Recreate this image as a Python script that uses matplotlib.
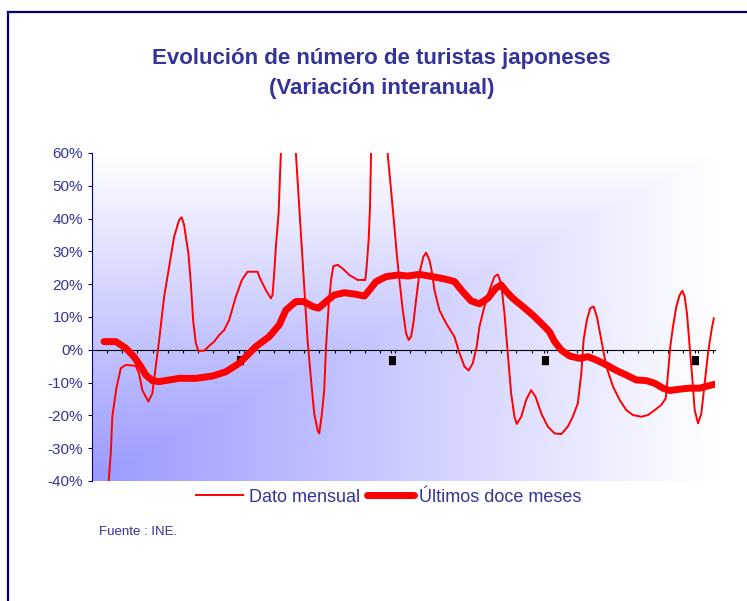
import matplotlib as mpl

mpl.use("Agg")
import matplotlib.pyplot as plt
import numpy as np
from matplotlib.patches import Rectangle

# monthly position (axis category units) and values in %
mensual_x = [1.0, 1.24, 1.34, 1.61, 1.90, 2.23, 2.89, 3.10, 3.32, 3.72, 3.98, 4.21, 4.43, 4.76,
             5.09, 5.42, 5.75, 5.92, 6.08, 6.19, 6.36, 6.52, 6.67, 6.85, 7.02, 7.40, 7.73, 8.06,
             8.39, 8.72, 9.05, 9.49, 9.89, 10.26, 10.92, 11.08, 11.47, 11.80, 11.91, 12.02, 12.13,
             12.31, 12.46, 12.95, 13.45, 13.67, 13.85, 14.00, 14.22, 14.45, 14.66, 14.88, 14.99,
             15.17, 15.32, 15.44, 15.61, 15.77, 15.92, 16.20, 16.53, 16.98, 17.52, 18.03, 18.12,
             18.25, 18.34, 18.41, 18.96, 19.50, 19.73, 19.95, 20.10, 20.28, 20.50, 20.72, 20.89,
             21.05, 21.20, 21.38, 21.60, 21.86, 22.04, 22.26, 22.44, 22.59, 22.92, 23.36, 23.91,
             24.24, 24.57, 24.85, 25.12, 25.38, 25.56, 25.89, 26.22, 26.55, 26.77, 26.99, 27.21,
             27.43, 27.65, 27.87, 28.02, 28.32, 28.64, 28.97, 29.26, 29.64, 30.07, 30.52, 30.96,
             31.39, 31.72, 32.05, 32.28, 32.43, 32.65, 32.87, 33.09, 33.31, 33.60, 33.93, 34.37,
             34.81, 35.25, 35.69, 36.24, 36.68, 37.12, 37.56, 37.85, 38.00, 38.15, 38.33, 38.55,
             38.77, 38.95, 39.10, 39.25, 39.43, 39.61, 39.76, 39.98, 40.20, 40.42, 40.64, 40.87,
             41.02]
mensual = [-46, -31.6, -20.4, -11.7, -5.6, -4.6, -4.9, -7.2, -12.3, -15.8, -13.3, -5.1, 3.0, 16.2,
           25.3, 34.5, 39.6, 40.4, 38.0, 34.5, 29.4, 20.3, 9.1, 2.0, -0.3, -0.3, 1.2, 2.5,
           4.5, 6.0, 9.1, 16.2, 21.3, 23.8, 23.8, 21.8, 18.2, 15.7, 16.7, 23.3, 31.4,
           41.6, 60, 95, 60, 43.6, 30.4, 19.2, 3.0, -9.2, -19.4, -24.5, -25.5,
           -19.4, -12.3, 1.0, 13.2, 21.3, 25.5, 25.9, 24.8, 22.8, 21.3, 21.3, 25.3,
           33.5, 43.6, 60, 100, 60, 48.7, 37.5, 29.4, 21.3, 12.1, 5.0, 3.0,
           4.0, 8.1, 15.2, 23.3, 28.4, 29.6, 27.4, 23.3, 18.2, 12.1, 8.1, 4.0,
           -1.0, -5.1, -6.3, -4.1, 1.0, 7.1, 13.2, 18.2, 22.3, 23.0, 20.3, 11.1,
           -1.0, -13.3, -20.4, -22.6, -20.4, -15.3, -12.3, -14.3, -19.4, -23.4, -25.5, -25.7,
           -23.4, -20.4, -16.3, -7.2, 3.0, 9.1, 12.7, 13.2, 10.1, 3.0, -5.1, -11.2,
           -15.3, -18.4, -19.9, -20.4, -19.9, -18.4, -16.8, -14.8, -7.2, 1.0, 7.1, 13.2,
           16.7, 18.0, 16.2, 11.1, 1.0, -9.2, -18.4, -22.4, -19.4, -10.2, -1.0, 6.0,
           9.6]

doce_x = [0.79, 1.57, 2.23, 2.77, 3.22, 3.55, 3.98, 4.43, 5.09, 5.75, 6.85, 7.95, 8.83, 9.71,
          10.15, 10.81, 11.69, 12.35, 12.79, 13.45, 14.00, 14.55, 14.95, 15.44, 15.98, 16.64,
          17.31, 17.97, 18.30, 18.74, 19.40, 20.17, 20.83, 21.60, 22.48, 23.36, 23.91, 24.46,
          25.01, 25.56, 26.11, 26.62, 26.99, 27.33, 27.76, 28.42, 29.08, 29.74, 30.18, 30.52,
          30.96, 31.51, 32.17, 32.72, 33.27, 33.93, 34.59, 35.25, 35.91, 36.57, 37.12, 37.67,
          38.11, 38.77, 39.43, 40.09, 40.64, 41.08]
doce = [2.5, 2.5, 0.5, -2.1, -5.1, -7.7, -9.4, -9.7, -9.2, -8.7, -8.7, -8.0, -6.7, -4.1,
        -2.1, 1.0, 4.0, 7.6, 12.1, 14.7, 14.7, 13.2, 12.7, 14.7, 16.7, 17.4,
        17.0, 16.4, 18.2, 20.8, 22.3, 22.8, 22.5, 23.0, 22.3, 21.5, 20.8, 17.7,
        14.9, 14.0, 15.7, 18.7, 19.8, 17.8, 15.7, 13.2, 10.6, 7.6, 5.5, 2.5,
        -0.1, -1.9, -2.6, -2.1, -3.1, -4.6, -6.3, -7.7, -9.2, -9.4, -10.2, -11.7,
        -12.4, -12.0, -11.7, -11.7, -11.0, -10.5]

year_pos = [9.7, 19.75, 29.85, 39.76]
yticks = [-40, -30, -20, -10, 0, 10, 20, 30, 40, 50, 60]

txt = "#333399"
plt.rcParams["font.family"] = ["Liberation Sans", "DejaVu Sans"]

fig = plt.figure(figsize=(7.47, 6.01), dpi=100)
ax = fig.add_axes([92 / 747, 120 / 601, 623 / 747, 328 / 601])
xmax = 41.1
ax.set_xlim(0, xmax)
ax.set_ylim(-40, 60)

# gradient from bottom-left corner
xn = np.linspace(0, 1, 300)
yt = np.linspace(1, 0, 200)
XX, YY = np.meshgrid(xn, yt)
t = 1 - np.maximum(XX, YY)
img = np.ones((200, 300, 3))
img[..., 0] = 1 - t * (102 / 255)
img[..., 1] = 1 - t * (102 / 255)
ax.imshow(img, extent=[0, xmax, -40, 60], aspect="auto", zorder=0, interpolation="bilinear")

ax.plot(mensual_x, mensual, color="red", lw=1.4, label="Dato mensual", zorder=3)
ax.plot(doce_x, doce, color="red", lw=5, solid_capstyle="round", label="Últimos doce meses", zorder=4)

for s in ["top", "right"]:
    ax.spines[s].set_visible(False)
ax.spines["left"].set_color("#000080")
ax.spines["bottom"].set_position(("data", 0))
ax.spines["bottom"].set_color("black")
ax.spines["bottom"].set_zorder(2)

ax.set_yticks(yticks)
ax.set_yticklabels([f"{v}%" for v in yticks], fontsize=11, color=txt)
ax.tick_params(axis="y", length=3, color="#000080", pad=3.5)

ax.set_xticks(year_pos)
ax.set_xticklabels(["█"] * len(year_pos), fontsize=6.5, family="DejaVu Sans")
ax.set_xticks(range(1, 42), minor=True)
ax.tick_params(axis="x", which="both", length=2.5, width=0.8, color="black", pad=2)

fig.text(381 / 747, 1 - 64 / 601, "Evolución de número de turistas japoneses",
         ha="center", va="baseline", fontsize=16, fontweight="bold", color=txt)
fig.text(382 / 747, 1 - 94 / 601, "(Variación interanual)",
         ha="center", va="baseline", fontsize=16, fontweight="bold", color=txt)

fig.legend(loc="center", bbox_to_anchor=(389 / 747, 1 - 497 / 601), ncol=2, frameon=False,
           fontsize=13, labelcolor=txt, handlelength=2.6, handletextpad=0.3, columnspacing=0.4)

fig.text(99 / 747, 1 - 532 / 601, "Fuente : INE.", ha="left", va="center", fontsize=9.5, color=txt)

fig.patches.append(Rectangle((7.5 / 747, -0.1), 1.2, 1 - 12 / 601 + 0.1, transform=fig.transFigure,
                             fill=False, edgecolor="#000080", lw=1.6))

fig.savefig("out.png", dpi=100)
